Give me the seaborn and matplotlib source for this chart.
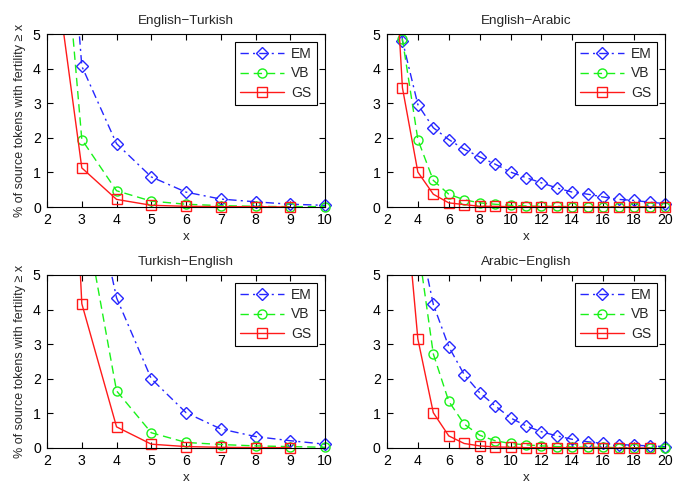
import matplotlib
matplotlib.use("Agg")
import matplotlib.pyplot as plt
from matplotlib.patches import Rectangle
import seaborn as sns
import numpy as np

# ---------------- data ----------------
x_short = [2, 3, 4, 5, 6, 7, 8, 9, 10]
x_long = list(range(2, 21))

# English-Turkish
et_em = [17.0, 4.07, 1.83, 0.87, 0.43, 0.23, 0.15, 0.08, 0.05]
et_vb = [13.7, 1.95, 0.47, 0.17, 0.08, 0.04, 0.02, 0.01, 0.01]
et_gs = [8.6, 1.13, 0.22, 0.05, 0.02, 0.01, 0.01, 0.0]

# English-Arabic
ea_em = [14.0, 4.81, 2.96, 2.29, 1.95, 1.67, 1.45, 1.24, 1.01, 0.85, 0.70,
         0.55, 0.43, 0.37, 0.29, 0.22, 0.19, 0.14, 0.10]
ea_vb = [12.0, 4.85, 1.95, 0.77, 0.37, 0.21, 0.12, 0.08, 0.05, 0.03, 0.02,
         0.02, 0.01, 0.01, 0.01, 0.01, 0.0, 0.0, 0.0]
ea_gs = [11.2, 3.45, 1.01, 0.37, 0.12, 0.07, 0.02, 0.02, 0.01, 0.01, 0.01,
         0.01, 0.0, 0.0, 0.0, 0.0, 0.0, 0.0, 0.0]

# Turkish-English
te_em = [30.0, 9.0, 4.34, 2.0, 1.02, 0.55, 0.33, 0.21, 0.11]
te_vb = [28.0, 7.2, 1.65, 0.44, 0.16, 0.10, 0.06, 0.04, 0.02]
te_gs = [25.0, 4.17, 0.61, 0.11, 0.04, 0.02, 0.01, 0.01]

# Arabic-English
ae_em = [25.0, 12.0, 6.3, 4.15, 2.93, 2.12, 1.60, 1.22, 0.87, 0.64, 0.47,
         0.35, 0.25, 0.18, 0.13, 0.10, 0.08, 0.06, 0.04]
ae_vb = [20.0, 11.0, 5.9, 2.72, 1.35, 0.69, 0.37, 0.21, 0.13, 0.09, 0.06,
         0.04, 0.03, 0.02, 0.02, 0.01, 0.01, 0.01, 0.01]
ae_gs = [15.0, 8.1, 3.15, 1.02, 0.35, 0.13, 0.06, 0.03, 0.02, 0.01, 0.01,
         0.01, 0.01, 0.0, 0.0, 0.0, 0.0, 0.0]

titles = ["English\u2212Turkish", "English\u2212Arabic",
          "Turkish\u2212English", "Arabic\u2212English"]
series_names = ["EM", "VB", "GS"]
ylabel_text = "% of source tokens with fertility \u2265 x"

panels = [
    (x_short, [et_em, et_vb, et_gs], list(range(2, 11))),
    (x_long, [ea_em, ea_vb, ea_gs], list(range(2, 21, 2))),
    (x_short, [te_em, te_vb, te_gs], list(range(2, 11))),
    (x_long, [ae_em, ae_vb, ae_gs], list(range(2, 21, 2))),
]

# ---------------- style ----------------
sns.set_style("ticks")
plt.rcParams["font.family"] = ["Liberation Sans", "DejaVu Sans"]
plt.rcParams["xtick.direction"] = "in"
plt.rcParams["ytick.direction"] = "in"
plt.rcParams["xtick.top"] = True
plt.rcParams["ytick.right"] = True
FS = 9.7
TICK_FS = 10.2
YL_FS = 9.0

styles = [
    dict(color=(0.15, 0.15, 1.0), dashes=(6, 3, 1.5, 3), marker="D",
         markersize=6),
    dict(color=(0.1, 0.95, 0.1), dashes=(6, 3.5), marker="o",
         markersize=6.5),
    dict(color=(1.0, 0.1, 0.1), dashes=None, marker="s", markersize=7),
]

fig = plt.figure(figsize=(6.82, 4.83), dpi=100)
L1, L2, W = 0.069, 0.5674, 0.4076
B1, B2, H = 0.5714, 0.0725, 0.3582
positions = [(L1, B1), (L2, B1), (L1, B2), (L2, B2)]

for i, ((xs, ys_list, xt), (l, b)) in enumerate(zip(panels, positions)):
    ax = fig.add_axes([l, b, W, H])
    handles = []
    for name, ys, st in zip(series_names, ys_list, styles):
        n = len(ys)
        sns.lineplot(x=xs[:n], y=ys, ax=ax, color=st["color"],
                     marker=st["marker"], markersize=st["markersize"],
                     markerfacecolor="none", markeredgecolor=st["color"],
                     markeredgewidth=1.0, linewidth=1.0, label=name,
                     errorbar=None, sort=False)
        line = ax.get_lines()[-1]
        if st["dashes"] is None:
            line.set_linestyle("-")
        else:
            line.set_dashes(st["dashes"])
        rect = Rectangle((0, -0.06), 1.06, 1.06, transform=ax.transAxes,
                         fill=False)
        line.set_clip_path(rect)
        handles.append(line)
    ax.set_xlim(xs[0], xs[-1])
    ax.set_ylim(0, 5)
    ax.set_xticks(xt)
    ax.set_yticks([0, 1, 2, 3, 4, 5])
    ax.tick_params(labelsize=TICK_FS, length=4, width=0.8, colors="black",
                   pad=4.5)
    for sp in ax.spines.values():
        sp.set_color("black")
        sp.set_linewidth(0.8)
    ax.set_title(titles[i], fontsize=FS, pad=7)
    ax.set_xlabel("x", fontsize=FS, labelpad=2.5)
    if i % 2 == 0:
        ax.set_ylabel(ylabel_text, fontsize=YL_FS, labelpad=5)
    else:
        ax.set_ylabel("")
    leg = ax.legend(handles=handles, labels=series_names, loc="upper right",
                    fontsize=FS + 0.3, frameon=True, fancybox=False,
                    edgecolor="black", framealpha=1, handlelength=3.2,
                    borderpad=0.35, labelspacing=0.38, handletextpad=0.5,
                    borderaxespad=0.6)
    leg.get_frame().set_linewidth(0.8)

fig.savefig("out.png", dpi=100)
